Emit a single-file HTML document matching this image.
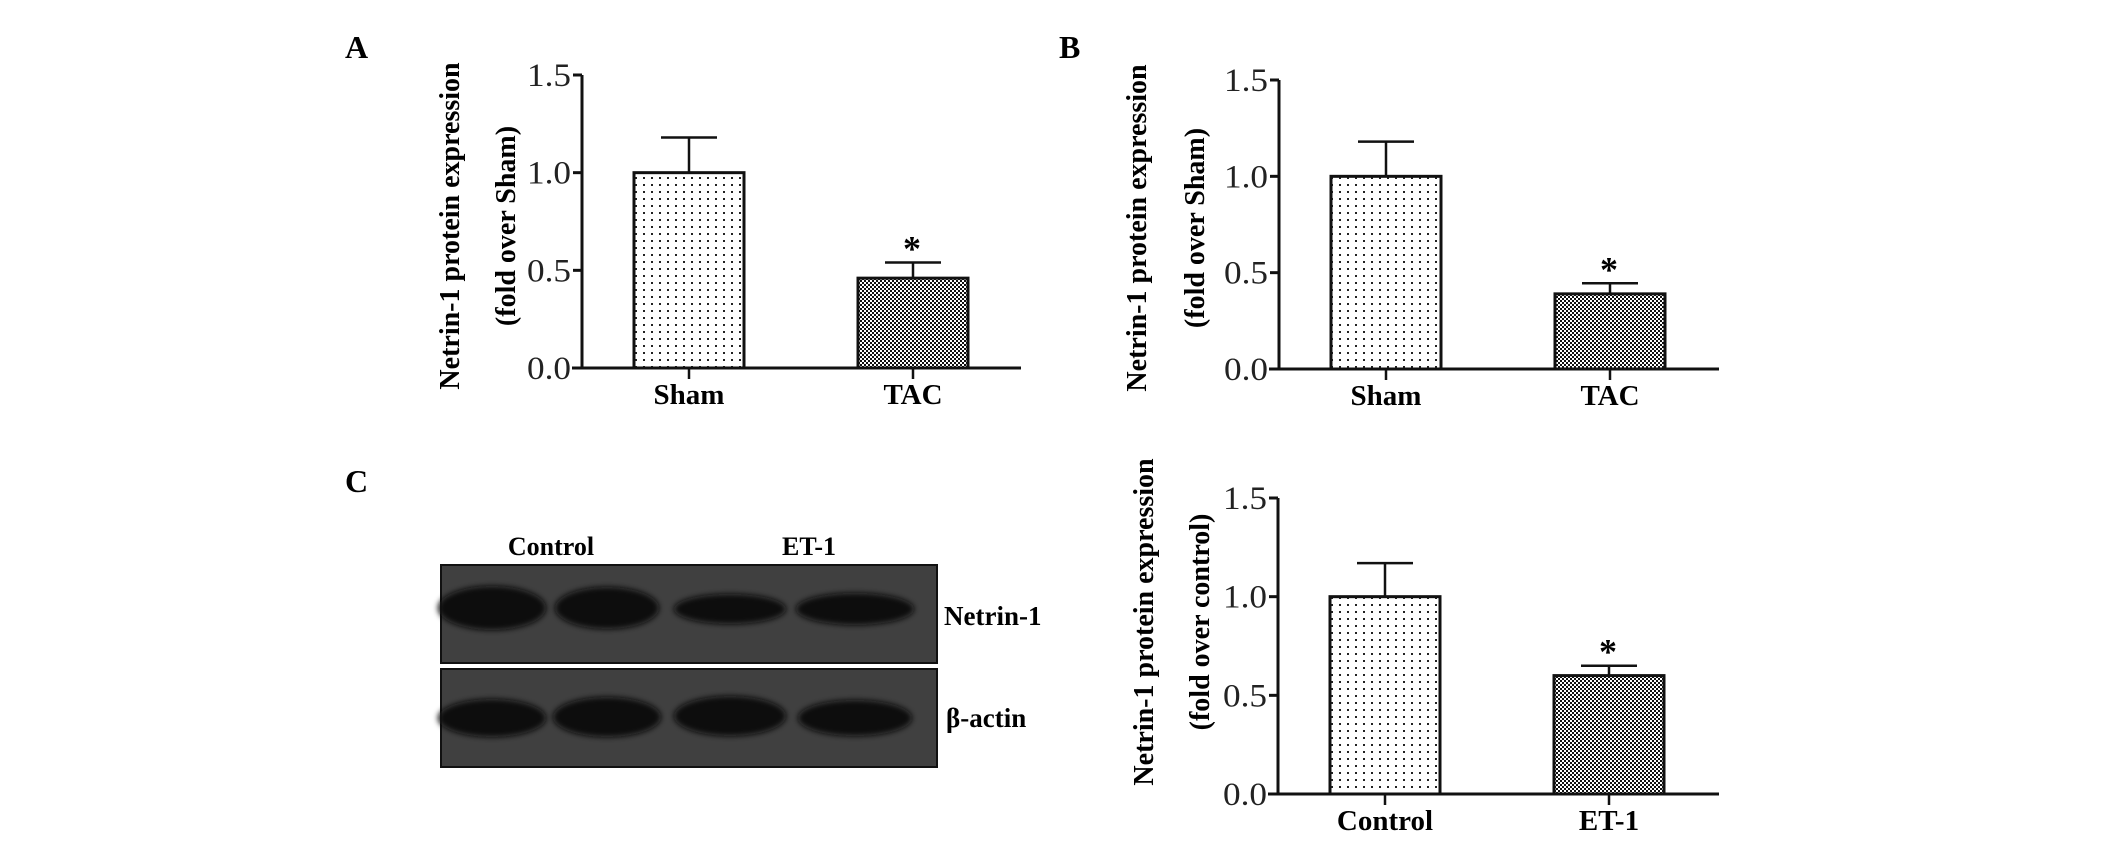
<!DOCTYPE html>
<html><head><meta charset="utf-8"><style>
html,body{margin:0;padding:0;background:#fff;}
svg{display:block;font-family:"Liberation Serif",serif;}
</style></head><body>
<svg id="fig" width="2126" height="847" viewBox="0 0 2126 847" xmlns="http://www.w3.org/2000/svg">
<defs>
<pattern id="dots" width="8" height="7" patternUnits="userSpaceOnUse"><rect width="8" height="7" fill="#fff"/><rect x="3" y="2" width="2" height="2" fill="#222"/></pattern>
<pattern id="hatch" width="4" height="4" patternUnits="userSpaceOnUse"><rect width="4" height="4" fill="#fff"/><rect width="2" height="2" fill="#111"/><rect x="2" y="2" width="2" height="2" fill="#111"/></pattern>
<filter id="blur" x="-20%" y="-50%" width="140%" height="200%"><feGaussianBlur stdDeviation="3"/></filter>
</defs>
<text x="345" y="58" font-size="32" font-weight="bold">A</text>
<text x="1059" y="58" font-size="32" font-weight="bold">B</text>
<text x="345" y="492" font-size="32" font-weight="bold">C</text>
<g id="blot">
<rect x="441" y="565" width="496" height="98" fill="#404040" stroke="#111" stroke-width="2"/>
<rect x="441" y="669" width="496" height="98" fill="#404040" stroke="#111" stroke-width="2"/>
<g filter="url(#blur)">
<ellipse cx="492" cy="608" rx="54" ry="22" fill="#0a0a0a"/>
<ellipse cx="607" cy="608" rx="52" ry="21" fill="#0a0a0a"/>
<ellipse cx="730" cy="609" rx="56" ry="15" fill="#0f0f0f"/>
<ellipse cx="855" cy="609" rx="59" ry="16" fill="#0f0f0f"/>
<ellipse cx="492" cy="718" rx="54" ry="19" fill="#0a0a0a"/>
<ellipse cx="607" cy="717" rx="54" ry="20" fill="#0a0a0a"/>
<ellipse cx="730" cy="716" rx="56" ry="20" fill="#0a0a0a"/>
<ellipse cx="855" cy="718" rx="57" ry="18" fill="#0f0f0f"/>
</g>
<text x="551" y="555" font-size="26" font-weight="bold" text-anchor="middle">Control</text>
<text x="809" y="555" font-size="26" font-weight="bold" text-anchor="middle">ET-1</text>
<text x="944" y="625" font-size="27" font-weight="bold">Netrin-1</text>
<text x="946" y="727" font-size="27" font-weight="bold">β-actin</text>
</g>
</svg>
<script>
// Panel A
const catsA = ["Sham", "TAC"];
const valsA = [1.0, 0.46];
const errA = [0.18, 0.08];
// Panel B
const catsB = ["Sham", "TAC"];
const valsB = [1.0, 0.39];
const errB = [0.18, 0.055];
// Panel C
const catsC = ["Control", "ET-1"];
const valsC = [1.0, 0.60];
const errC = [0.17, 0.05];
const yTicks = [0.0, 0.5, 1.0, 1.5];
const yTickLabels = ["0.0", "0.5", "1.0", "1.5"];
const sigFlags = [false, true];

const NS = "http://www.w3.org/2000/svg";
const svg = document.getElementById("fig");
function mk(tag, attrs, parent) {
  const e = document.createElementNS(NS, tag);
  for (const k in attrs) e.setAttribute(k, attrs[k]);
  parent.appendChild(e);
  return e;
}
function chart(id, ax, y0, y15, xEnd, cats, vals, errs, lab1, lab2, l1x, l2x, labY) {
  const g = mk("g", {}, svg);
  
  
  const yScale = v => y0 - (y0 - y15) * v / 1.5;
  const barW = 110;
  const centers = [ax + 107, ax + 331];
  const xScale = i => centers[i];
  const yl = mk("line", {x1: ax, y1: y15, x2: ax, y2: y0, stroke: "#111", "stroke-width": 3}, g);
  
  
  const xl = mk("line", {x1: ax - 10, y1: y0, x2: xEnd, y2: y0, stroke: "#111", "stroke-width": 3}, g);
  
  
  yTicks.forEach((t, i) => {
    const y = yScale(t);
    const tk = mk("line", {x1: ax - 9, y1: y, x2: ax, y2: y, stroke: "#111", "stroke-width": 3}, g);
    
    
    const tx = mk("text", {x: ax - 11, y: y + 11, "font-size": 33, "text-anchor": "end", fill: "#222", textLength: 44, lengthAdjust: "spacingAndGlyphs"}, g);
    tx.textContent = yTickLabels[i];
    
    
  });
  cats.forEach((c, i) => {
    const cx = xScale(i);
    const top = yScale(vals[i]);
    const etop = yScale(vals[i] + errs[i]);
    const el = mk("line", {x1: cx, y1: top, x2: cx, y2: etop, stroke: "#111", "stroke-width": 2.5}, g);
    
    
    const cap = mk("line", {x1: cx - 28, y1: etop, x2: cx + 28, y2: etop, stroke: "#111", "stroke-width": 2.5}, g);
    
    
    const r = mk("rect", {x: cx - barW / 2, y: top, width: barW, height: y0 - top, fill: i === 0 ? "url(#dots)" : "url(#hatch)", stroke: "#111", "stroke-width": 3}, g);
    
    
    const xt = mk("line", {x1: cx, y1: y0, x2: cx, y2: y0 + 11, stroke: "#111", "stroke-width": 2.5}, g);
    
    
    const lt = mk("text", {x: cx, y: y0 + 36, "font-size": 29, "font-weight": "bold", "text-anchor": "middle"}, g);
    lt.textContent = c;
    
    
    if (sigFlags[i]) {
      const st = mk("text", {x: cx - 1, y: etop - 2, "font-size": 36, "font-weight": "bold", "text-anchor": "middle"}, g);
      st.textContent = "*";
      
      
    }
  });
  const t1 = mk("text", {x: 0, y: 0, "font-size": 28, "font-weight": "bold", "text-anchor": "middle", transform: `translate(${l1x},${labY}) rotate(-90)`}, g);
  t1.textContent = lab1;
  
  
  const t2 = mk("text", {x: 0, y: 0, "font-size": 28, "font-weight": "bold", "text-anchor": "middle", transform: `translate(${l2x},${labY}) rotate(-90)`}, g);
  t2.textContent = lab2;
  
  
}
chart("chart-a", 582, 368, 75, 1021, catsA, valsA, errA, "Netrin-1 protein expression", "(fold over Sham)", 459, 515, 226);
chart("chart-b", 1279, 369, 80, 1719, catsB, valsB, errB, "Netrin-1 protein expression", "(fold over Sham)", 1146, 1204, 228);
chart("chart-c", 1278, 794, 498, 1719, catsC, valsC, errC, "Netrin-1 protein expression", "(fold over control)", 1153, 1209, 622);
</script>
</body></html>
